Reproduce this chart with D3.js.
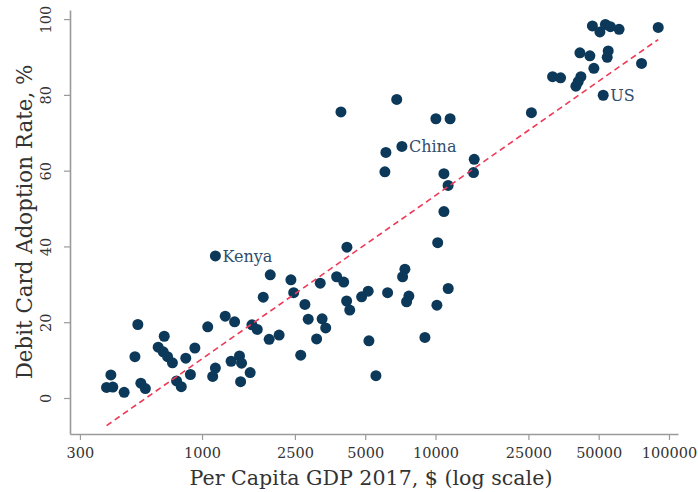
<!DOCTYPE html>
<html>
<head>
<meta charset="utf-8">
<script src="https://cdn.jsdelivr.net/npm/d3@7"></script>
<style>
  body { margin: 0; background: #fff; }
  svg text { font-family: "DejaVu Serif", serif; }
</style>
</head>
<body>
<svg id="chart" width="698" height="492"></svg>
<script>
// per capita GDP 2017 ($) and debit card adoption rate (%), one entry per country
const gdp = [
  390, 415, 407, 464, 516, 531, 547, 572, 649, 682,
  712, 747, 689, 778, 815, 852, 892, 932, 1058, 1111,
  1141, 1141, 1257, 1379, 1332, 1447, 1477, 1463, 1608, 1636,
  1724, 1829, 1939, 1960, 2139, 2403, 2470, 2647, 2759, 2850,
  3096, 3208, 3269, 3387, 3772, 4045, 4175, 4162, 4292, 4826,
  5149, 5185, 5557, 6235, 7396, 7229, 7691, 7519, 9008, 10139,
  10219, 11335, 3935, 6823, 10039, 11550, 6131, 7180, 6071, 10865,
  11324, 14649, 14548, 10865, 25750, 31730, 34330, 39930, 40850, 41950,
  41540, 45840, 47680, 52270, 54380, 54920, 46990, 50600, 53420, 56120,
  61130, 76300, 89930
];
const rate = [
  2.8, 2.9, 6.1, 1.5, 10.9, 19.4, 3.9, 2.5, 13.4, 12.2,
  10.9, 9.3, 16.3, 4.5, 3.0, 10.5, 6.2, 13.2, 18.8, 5.7,
  7.9, 37.5, 21.6, 20.1, 9.7, 11.1, 9.2, 4.3, 6.7, 19.3,
  18.1, 26.6, 15.5, 32.5, 16.6, 31.2, 27.8, 11.3, 24.7, 20.8,
  15.6, 30.3, 20.9, 18.5, 32.0, 30.6, 39.8, 25.6, 23.2, 26.7,
  28.2, 15.1, 5.9, 27.8, 34.0, 32.0, 26.9, 25.4, 16.0, 24.5,
  41.0, 28.9, 75.5, 78.8, 73.7, 73.7, 64.8, 66.4, 59.7, 59.2,
  56.1, 63.0, 59.5, 49.2, 75.3, 84.8, 84.5, 82.3, 83.5, 84.8,
  91.1, 90.3, 87.0, 79.9, 89.9, 91.6, 98.2, 96.6, 98.6, 98.0,
  97.3, 88.3, 97.8
];

// labelled countries: index into the arrays above
const labelNames = ["Kenya", "China", "US"];
const labelIndex = [21, 67, 83];

// fitted line end points
const fitGdp = [390, 89900];
const fitRate = [-7.3, 94.6];

const xTicks = [300, 1000, 2500, 5000, 10000, 25000, 50000, 100000];
const yTicks = [0, 20, 40, 60, 80, 100];

const data = gdp.map((g, i) => ({ gdp: g, rate: rate[i] }));

const svg = d3.select("#chart");
const plotLeft = 70, plotRight = 678, plotTop = 10, plotBottom = 434;

const x = d3.scaleLog().domain([272, 109300]).range([plotLeft, plotRight]);
const y = d3.scaleLinear().domain([-9.5, 102.4]).range([plotBottom, plotTop]);

const axisColor = "#9a9a9a";
const textColor = "#333";

// x axis
const xAxis = svg.append("g")
  .attr("transform", `translate(0, ${plotBottom})`)
  .call(d3.axisBottom(x).tickValues(xTicks).tickFormat(d3.format("d")).tickSize(6).tickSizeOuter(0));
xAxis.select(".domain").attr("stroke", axisColor).attr("stroke-width", 1.6);
xAxis.selectAll(".tick line").attr("stroke", axisColor).attr("stroke-width", 1.2);
xAxis.selectAll(".tick text")
  .attr("fill", textColor)
  .attr("font-size", 14.5)
  .attr("font-family", "DejaVu Serif")
  .attr("y", 14);

// y axis
const yAxis = svg.append("g")
  .attr("transform", `translate(${plotLeft}, 0)`)
  .call(d3.axisLeft(y).tickValues(yTicks).tickSize(6).tickSizeOuter(0));
yAxis.select(".domain").attr("stroke", axisColor).attr("stroke-width", 1.6);
yAxis.selectAll(".tick line").attr("stroke", axisColor).attr("stroke-width", 1.2);
yAxis.selectAll(".tick text")
  .attr("fill", textColor)
  .attr("font-size", 14.5)
  .attr("font-family", "DejaVu Serif")
  .attr("text-anchor", "middle")
  .attr("transform", "rotate(-90)")
  .attr("x", 0)
  .attr("y", -19)
  .attr("dy", 0);

// axis titles
svg.append("text")
  .attr("x", 371)
  .attr("y", 485)
  .attr("text-anchor", "middle")
  .attr("font-size", 20.6)
  .attr("fill", textColor)
  .text("Per Capita GDP 2017, $ (log scale)");

svg.append("text")
  .attr("transform", "translate(32, 222) rotate(-90)")
  .attr("text-anchor", "middle")
  .attr("font-size", 21.4)
  .attr("fill", textColor)
  .text("Debit Card Adoption Rate, %");

// dots
svg.append("g")
  .selectAll("circle")
  .data(data)
  .join("circle")
  .attr("cx", (d) => x(d.gdp))
  .attr("cy", (d) => y(d.rate))
  .attr("r", 5.5)
  .attr("fill", "#0c3859");

// fitted line
svg.append("line")
  .attr("x1", x(fitGdp[0]))
  .attr("y1", y(fitRate[0]))
  .attr("x2", x(fitGdp[1]))
  .attr("y2", y(fitRate[1]))
  .attr("stroke", "#ee3a57")
  .attr("stroke-width", 1.6)
  .attr("stroke-dasharray", "6,4");

// country labels
svg.append("g")
  .selectAll("text")
  .data(labelIndex)
  .join("text")
  .attr("x", (i) => x(gdp[i]) + 7)
  .attr("y", (i) => y(rate[i]) + 6)
  .attr("font-size", 16)
  .attr("fill", "#2f4d6c")
  .text((i, k) => labelNames[k]);
</script>
</body>
</html>
